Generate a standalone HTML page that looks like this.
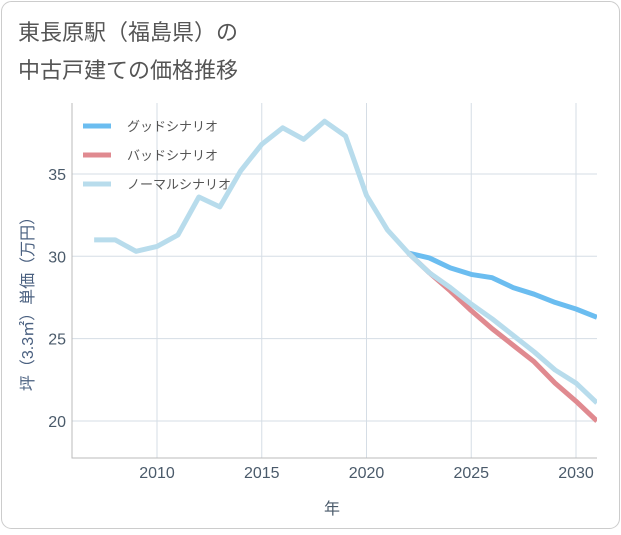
<!DOCTYPE html>
<html><head><meta charset="utf-8"><style>
body{margin:0;background:#fff;font-family:"Liberation Sans","Noto Sans CJK JP",sans-serif}
</style></head><body>
<svg width="621" height="530" xmlns="http://www.w3.org/2000/svg" font-family="Liberation Sans, Noto Sans CJK JP, sans-serif">
<rect x="1.5" y="1.5" width="618" height="527" rx="10" fill="#fff" stroke="#ccc"/>
<text x="18" y="40" font-size="22" fill="#555">東長原駅（福島県）の</text>
<text x="18" y="78" font-size="22" fill="#555">中古戸建ての価格推移</text>
<g id="grid"></g>
<g id="series"></g>
<g id="legend"></g>
<text x="332" y="514" font-size="16" fill="#4a5a6a" text-anchor="middle">年</text>
<text transform="translate(33,300) rotate(-90)" font-size="16" fill="#4a6080" text-anchor="middle">坪（3.3㎡）単価（万円）</text>
</svg>
<script>
const years=[2007,2008,2009,2010,2011,2012,2013,2014,2015,2016,2017,2018,2019,2020,2021,2022,2023,2024,2025,2026,2027,2028,2029,2030,2031];
const normal=[31.0,31.0,30.3,30.6,31.3,33.6,33.0,35.2,36.8,37.8,37.1,38.2,37.3,33.7,31.6,30.2,29.0,28.1,27.1,26.2,25.2,24.2,23.1,22.3,21.1];
const futureYears=[2022,2023,2024,2025,2026,2027,2028,2029,2030,2031];
const good=[30.2,29.9,29.3,28.9,28.7,28.1,27.7,27.2,26.8,26.3];
const bad=[30.2,29.0,27.9,26.7,25.6,24.6,23.6,22.3,21.2,20.0];
const xTicks=[2010,2015,2020,2025,2030];
const yTicks=[20,25,30,35];
const NS="http://www.w3.org/2000/svg";
const X=v=>157+(v-2010)*20.95, Y=v=>421-(v-20)*16.47;
const L=72,R=597,T=103,B=458;
function mk(t,a,p){const e=document.createElementNS(NS,t);for(const k in a)e.setAttribute(k,a[k]);p.appendChild(e);return e;}
const g=document.getElementById('grid');
xTicks.forEach(v=>{const l=mk('line',{x1:X(v),x2:X(v),y1:T,y2:B,stroke:'#d5dde5'},g);

const t=mk('text',{x:X(v),y:478,'font-size':16,fill:'#4a5a6a','text-anchor':'middle'},g);t.textContent=v;
});
yTicks.forEach(v=>{const l=mk('line',{x1:L,x2:R,y1:Y(v),y2:Y(v),stroke:'#d5dde5'},g);

const t=mk('text',{x:66,y:Y(v)+6,'font-size':16,fill:'#4a5a6a','text-anchor':'end'},g);t.textContent=v;
});
const ax=mk('path',{d:`M${L},${T}V${B}H${R}`,fill:'none',stroke:'#bbb'},g);

const s=document.getElementById('series');
function line(xs,ys,c,n){const d=xs.map((x,i)=>(i?'L':'M')+X(x)+','+Y(ys[i])).join('');
const p=mk('path',{d,fill:'none',stroke:c,'stroke-width':5,'stroke-linejoin':'round','clip-path':'url(#c)'},s);
}
const defs=mk('defs',{},s);const cp=mk('clipPath',{id:'c'},defs);mk('rect',{x:L,y:T,width:R-L,height:B-T},cp);
line(futureYears,good,'#6bbdf0','good-scenario-line');
line(futureYears,bad,'#e08a90','bad-scenario-line');
line(years,normal,'#b8dcec','normal-scenario-line');
const lg=document.getElementById('legend');
[['グッドシナリオ','#6bbdf0',126],['バッドシナリオ','#e08a90',155],['ノーマルシナリオ','#b8dcec',184]].forEach(([t,c,y])=>{
const l=mk('line',{x1:83,x2:111,y1:y,y2:y,stroke:c,'stroke-width':5},lg);

const tx=mk('text',{x:127,y:y+5,'font-size':13,fill:'#555'},lg);tx.textContent=t;
});
</script>
</body></html>
